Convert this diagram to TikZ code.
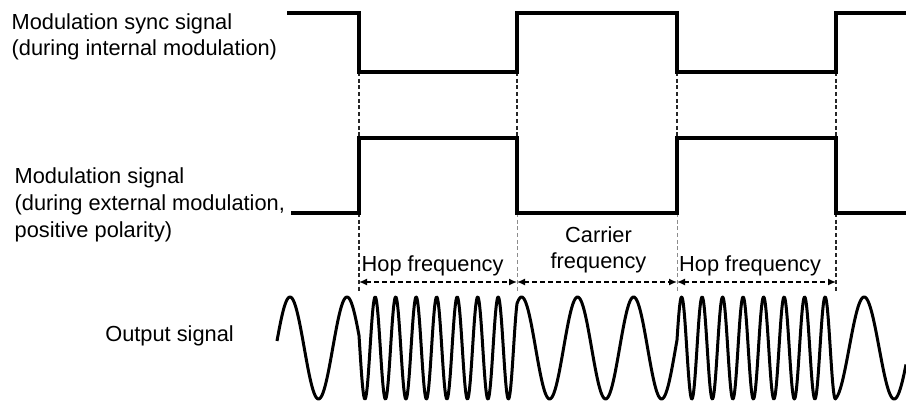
\documentclass[tikz,border=0pt]{standalone}
\usepackage{fontspec}
\setmainfont{Liberation Sans}
\usetikzlibrary{arrows.meta}
\tikzset{
  sig/.style={line width=3.2pt, line join=miter, black},
  wave/.style={line width=3pt, line join=round, black},
  guide/.style={line width=1.2pt, black!85, dash pattern=on 4pt off 2.7pt},
  guidelight/.style={line width=0.8pt, black!45, dash pattern=on 4pt off 2.7pt},
  span/.style={line width=1.5pt, black, dash pattern=on 5pt off 3pt, {Latex[length=8pt,width=7pt]}-{Latex[length=8pt,width=7pt]}},
  lbl/.style={inner sep=0pt, font=\fontsize{21.8}{26}\selectfont}
}
\begin{document}
\begin{tikzpicture}[x=1pt,y=-1pt]
\useasboundingbox (0,0) rectangle (906,401);
% labels
\node[lbl, anchor=base west] (t1) at (11.5,29.5) {Modulation sync signal};
\node[lbl, anchor=base west] (t2) at (11.5,56) {(during internal modulation)};
\node[lbl, anchor=base west] (t3) at (14.5,184) {Modulation signal};
\node[lbl, anchor=base west] (t4) at (14.5,210.5) {(during external modulation,};
\node[lbl, anchor=base west] (t5) at (14.5,237) {positive polarity)};
\node[lbl, anchor=base east] (t6) at (234,341) {Output signal};
\node[lbl, anchor=base west] (h1) at (361.5,272) {Hop frequency};
\node[lbl, anchor=base] (c1) at (598.5,242.5) {Carrier};
\node[lbl, anchor=base] (c2) at (598.5,268.5) {frequency};
\node[lbl, anchor=base west] (h2) at (679,272) {Hop frequency};
% sync signal coordinates
\coordinate (s0) at (287,13);  \coordinate (s1) at (359,13);
\coordinate (s2) at (359,72);  \coordinate (s3) at (517,72);
\coordinate (s4) at (517,13);  \coordinate (s5) at (677,13);
\coordinate (s6) at (677,72);  \coordinate (s7) at (836,72);
\coordinate (s8) at (836,13);  \coordinate (s9) at (906,13);
% modulation signal coordinates
\coordinate (m0) at (291,213); \coordinate (m1) at (359,213);
\coordinate (m2) at (359,138); \coordinate (m3) at (517,138);
\coordinate (m4) at (517,213); \coordinate (m5) at (677,213);
\coordinate (m6) at (677,138); \coordinate (m7) at (836,138);
\coordinate (m8) at (836,213); \coordinate (m9) at (906,213);
% lower guide ends
\coordinate (d1) at (359,292); \coordinate (d2) at (517,292);
\coordinate (d3) at (677,292); \coordinate (d4) at (836,292);
% arrow ends
\coordinate (a1) at (359,282); \coordinate (a2) at (517,282);
\coordinate (a3) at (677,282); \coordinate (a4) at (836,282);
% guides
\draw[guide] (s2) -- (m2);
\draw[guide] (s3) -- (m3);
\draw[guide] (s6) -- (m6);
\draw[guide] (s7) -- (m7);
\draw[guide] (m1) -- (d1);
\draw[guidelight] (m4) -- (d2);
\draw[guidelight] (m5) -- (d3);
\draw[guide] (m8) -- (d4);
% square waves
\draw[sig] (s0) -- (s1) -- (s2) -- (s3) -- (s4) -- (s5) -- (s6) -- (s7) -- (s8) -- (s9);
\draw[sig] (m0) -- (m1) -- (m2) -- (m3) -- (m4) -- (m5) -- (m6) -- (m7) -- (m8) -- (m9);
% spans
\draw[span] (a1) -- (a2);
\draw[span] (a2) -- (a3);
\draw[span] (a3) -- (a4);
% output signal
\draw[wave]
  plot[domain=277:359, samples=120] (\x,{348-51*sin(360*(0.25+(\x-290)/57))})
  -- plot[domain=359:517, samples=400] (\x,{348-51*sin(360*(1.4605+(\x-359)/20.5))})
  -- plot[domain=517:677, samples=200] (\x,{348-51*sin(360*(9.1678+(\x-517)/56))})
  -- plot[domain=677:836, samples=400] (\x,{348-51*sin(360*(12.0249+(\x-677)/20.5))})
  -- plot[domain=836:906, samples=100] (\x,{348-51*sin(360*(19.781+(\x-836)/60))});
\end{tikzpicture}
\end{document}
